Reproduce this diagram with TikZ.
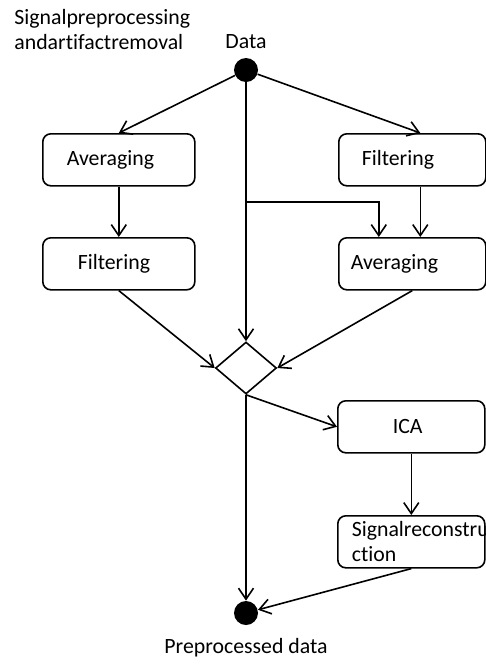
\documentclass[tikz,border=0pt]{standalone}
\usepackage{fontspec}
\setmainfont{Carlito}[Ligatures=NoCommon]
\usetikzlibrary{arrows.meta,shapes.geometric}

\begin{document}
\begin{tikzpicture}[x=0.5pt, y=-0.5pt,
	every node/.style={font=\fontsize{10.9}{12.6}\selectfont},
	>={Straight Barb[length=5.5pt,width=7.5pt]},
	actbox/.style={draw, line width=0.8pt, rounded corners=4pt, anchor=north west, align=left, minimum height=26pt, inner ysep=0pt},
	flow/.style={->, line width=0.8pt}]
	\useasboundingbox (0,0) rectangle (486,665);
	\clip (0,0) rectangle (486,665);
	\node[anchor=north west, align=left, inner sep=0pt] (title) at (14,9) {Signalpreprocessing\\andartifactremoval};
	% start and end points
	\node[circle, fill, inner sep=0pt, minimum size=12pt] (data) at (246,70) {};
	\node (datalbl) at (246,42) {Data};
	\node[circle, fill, inner sep=0pt, minimum size=12pt] (done) at (246,613) {};
	\node (donelbl) at (246,648) {Preprocessed data};
	% activities
	\node[actbox, text width=52pt, inner xsep=12pt] (avgL) at (42,133) {Averaging};
	\node[actbox, text width=41pt, inner xsep=17.5pt] (filtL) at (42,237) {Filtering};
	\node[actbox, text width=50.5pt, inner xsep=11.5pt] (filtR) at (338,133) {Filtering};
	\node[actbox, text width=61.5pt, inner xsep=6pt] (avgR) at (338,237) {Averaging};
	\node[actbox, text width=18.5pt, inner xsep=27.5pt] (ica) at (337,400) {ICA};
	\node[actbox, text width=59.5pt, inner xsep=7pt] (recon) at (337,515) {\mbox{Signalreconstru}\\ction};
	\node[diamond, draw, line width=0.8pt, inner sep=0pt, minimum width=30.5pt, minimum height=26pt] (merge) at (246,368) {};
	\coordinate (branch) at (246,202);
	% flows
	\draw[flow] (data) -- (avgL.north);
	\draw[flow] (data) -- ([xshift=4pt]filtR.north);
	\draw[flow] (data) -- (merge.north);
	\draw[flow] (branch) -| ([xshift=-16.75pt]avgR.north);
	\draw[flow] (avgL) -- (filtL);
	\draw[flow] ([xshift=4pt]filtR.south) -- ([xshift=4pt]avgR.north);
	\draw[flow] (filtL.south) -- (merge.west);
	\draw[flow] (avgR.south) -- (merge.east);
	\draw[flow] (merge.south) -- (ica.west);
	\draw[flow] (merge.south) -- (done);
	\draw[flow] (ica) -- (recon);
	\draw[flow] (recon.south) -- (done);
\end{tikzpicture}
\end{document}
